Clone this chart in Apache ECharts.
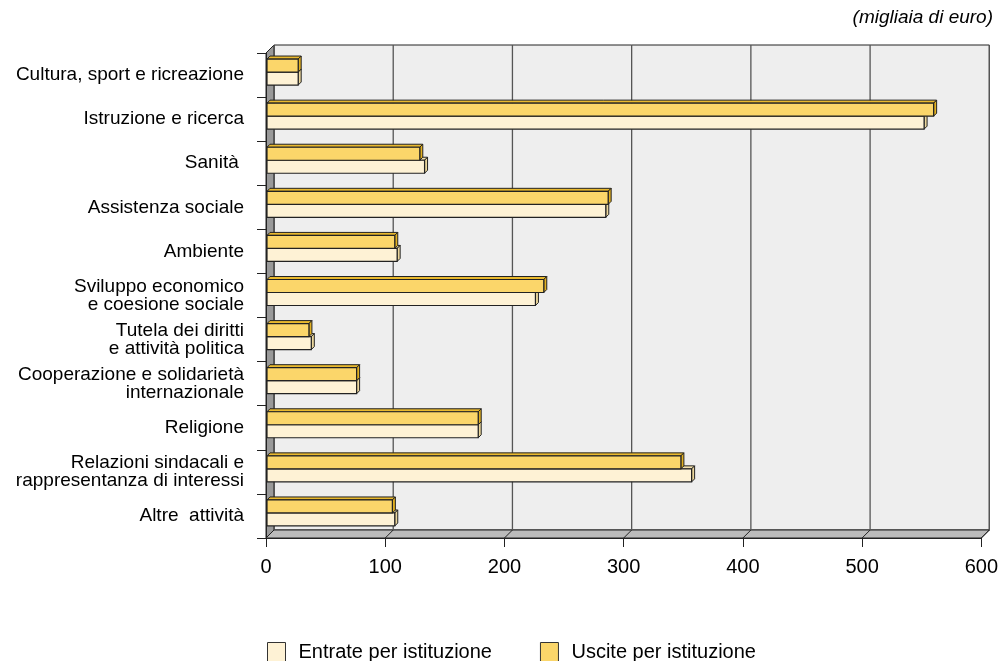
<!DOCTYPE html>
<html>
<head>
<meta charset="utf-8">
<script src="https://cdn.jsdelivr.net/npm/echarts@6/dist/echarts.min.js"></script>
<style>
	html, body { margin: 0; padding: 0; background: #fff; }
	#chart { width: 1001px; height: 661px; }
</style>
</head>
<body>
<div id="chart"></div>
<script>
// categorie (dall'alto verso il basso)
var categorie = [
	'Cultura, sport e ricreazione',
	'Istruzione e ricerca',
	'Sanità ',
	'Assistenza sociale',
	'Ambiente',
	'Sviluppo economico\ne coesione sociale',
	'Tutela dei diritti\ne attività politica',
	'Cooperazione e solidarietà\ninternazionale',
	'Religione',
	'Relazioni sindacali e\nrappresentanza di interessi',
	'Altre  attività'
];
// migliaia di euro
var entrate = [27, 552, 133, 285, 110, 226, 38, 76, 178, 357, 108];
var uscite = [27, 560, 129, 287, 108, 233, 36, 76, 178, 348, 106];
var tickValori = [0, 100, 200, 300, 400, 500, 600];

var chart = echarts.init(document.getElementById('chart'));

var D = 8;    // profondità del "box" 3d
var d = 3;    // profondità delle barre

// pareti: fondo, parete sinistra, pavimento
function renderPareti(params, api) {
	var cs = params.coordSys;
	var x0 = cs.x, y0 = cs.y, x1 = cs.x + cs.width, y1 = cs.y + cs.height;
	return {
		type: 'group',
		children: [{
			type: 'rect',
			shape: { x: x0 + D, y: y0 - D, width: cs.width, height: cs.height },
			style: { fill: '#eeeeee', stroke: '#222', lineWidth: 1 }
		}, {
			type: 'polygon',
			shape: { points: [[x0, y0], [x0 + D, y0 - D], [x0 + D, y1 - D], [x0, y1]] },
			style: { fill: '#999999', stroke: '#222', lineWidth: 1 }
		}, {
			type: 'polygon',
			shape: { points: [[x0, y1], [x0 + D, y1 - D], [x1 + D, y1 - D], [x1, y1]] },
			style: { fill: '#bbbbbb', stroke: '#222', lineWidth: 1 }
		}]
	};
}

// griglia verticale sul fondo + diagonale sul pavimento
function renderGriglia(params, api) {
	var cs = params.coordSys;
	var x = api.coord([api.value(0), 0])[0];
	var yTop = cs.y, yBot = cs.y + cs.height;
	return {
		type: 'group',
		children: [{
			type: 'line',
			shape: { x1: x + D, y1: yTop - D, x2: x + D, y2: yBot - D },
			style: { stroke: '#555', lineWidth: 1.3 }
		}, {
			type: 'line',
			shape: { x1: x, y1: yBot, x2: x + D, y2: yBot - D },
			style: { stroke: '#222', lineWidth: 1 }
		}]
	};
}

function makeBarre(sopra, colFronte, colTop, colLato) {
	return function(params, api) {
		var cat = api.value(1);
		var c0 = api.coord([0, cat]);
		var c1 = api.coord([api.value(0), cat]);
		var band = api.size([0, 1])[1];
		var h = Math.round(band * 0.3);
		var yc = c0[1] - 3;
		var y = sopra ? yc - h : yc;
		var xs = c0[0] + 1, xe = c1[0];
		return {
			type: 'group',
			children: [{
				type: 'polygon',
				shape: { points: [[xs, y], [xs + d, y - d], [xe + d, y - d], [xe, y]] },
				style: { fill: colTop, stroke: '#222', lineWidth: 1 }
			}, {
				type: 'polygon',
				shape: { points: [[xe, y], [xe + d, y - d], [xe + d, y + h - d], [xe, y + h]] },
				style: { fill: colLato, stroke: '#222', lineWidth: 1 }
			}, {
				type: 'rect',
				shape: { x: xs, y: y, width: xe - xs, height: h },
				style: { fill: colFronte, stroke: '#222', lineWidth: 1.2 }
			}]
		};
	};
}

var datiEntrate = [];
var datiUscite = [];
for (var i = 0; i < categorie.length; i++) {
	datiEntrate.push([entrate[i], i]);
	datiUscite.push([uscite[i], i]);
}

var option = {
	animation: false,
	textStyle: { fontFamily: 'Liberation Sans, Arial, sans-serif' },
	title: {
		text: '(migliaia di euro)',
		right: 8,
		top: 8,
		padding: 0,
		textStyle: { fontSize: 19, fontStyle: 'italic', fontWeight: 'normal', color: '#000' }
	},
	grid: { left: 266, top: 53, width: 716, height: 485 },
	legend: {
		left: 267,
		top: 642,
		padding: 0,
		itemWidth: 18,
		itemHeight: 20,
		itemGap: 48,
		icon: 'rect',
		itemStyle: { borderColor: '#333', borderWidth: 1 },
		textStyle: { fontSize: 20, color: '#000', padding: [0, 0, 0, 8] },
		data: ['Entrate per istituzione', 'Uscite per istituzione']
	},
	xAxis: {
		type: 'value',
		min: 0,
		max: 600,
		interval: 100,
		axisLine: { show: true, lineStyle: { color: '#222' } },
		axisTick: { show: true, length: 9, lineStyle: { color: '#222' } },
		axisLabel: { fontSize: 20, color: '#000', margin: 19 },
		splitLine: { show: false }
	},
	yAxis: {
		type: 'category',
		inverse: true,
		data: categorie,
		axisLine: { show: true, lineStyle: { color: '#222' } },
		axisTick: { show: true, length: 9, lineStyle: { color: '#222' } },
		axisLabel: { fontSize: 19, color: '#000', margin: 22, lineHeight: 18 },
		splitLine: { show: false }
	},
	series: [{
		type: 'custom',
		name: 'pareti',
		z: 0,
		silent: true,
		renderItem: renderPareti,
		encode: { x: 0, y: 1 },
		data: [[0, 0]]
	}, {
		type: 'custom',
		name: 'griglia',
		z: 1,
		silent: true,
		renderItem: renderGriglia,
		encode: { x: 0 },
		data: tickValori.map(function(v) { return [v]; })
	}, {
		type: 'custom',
		name: 'Entrate per istituzione',
		z: 2,
		itemStyle: { color: '#fef2d5' },
		renderItem: makeBarre(false, '#fef2d5', '#f4e1ad', '#ecd79c'),
		encode: { x: 0, y: 1 },
		data: datiEntrate
	}, {
		type: 'custom',
		name: 'Uscite per istituzione',
		z: 3,
		itemStyle: { color: '#fbd66a' },
		renderItem: makeBarre(true, '#fbd66a', '#e9b92e', '#e2b020'),
		encode: { x: 0, y: 1 },
		data: datiUscite
	}]
};

chart.setOption(option);
</script>
</body>
</html>
